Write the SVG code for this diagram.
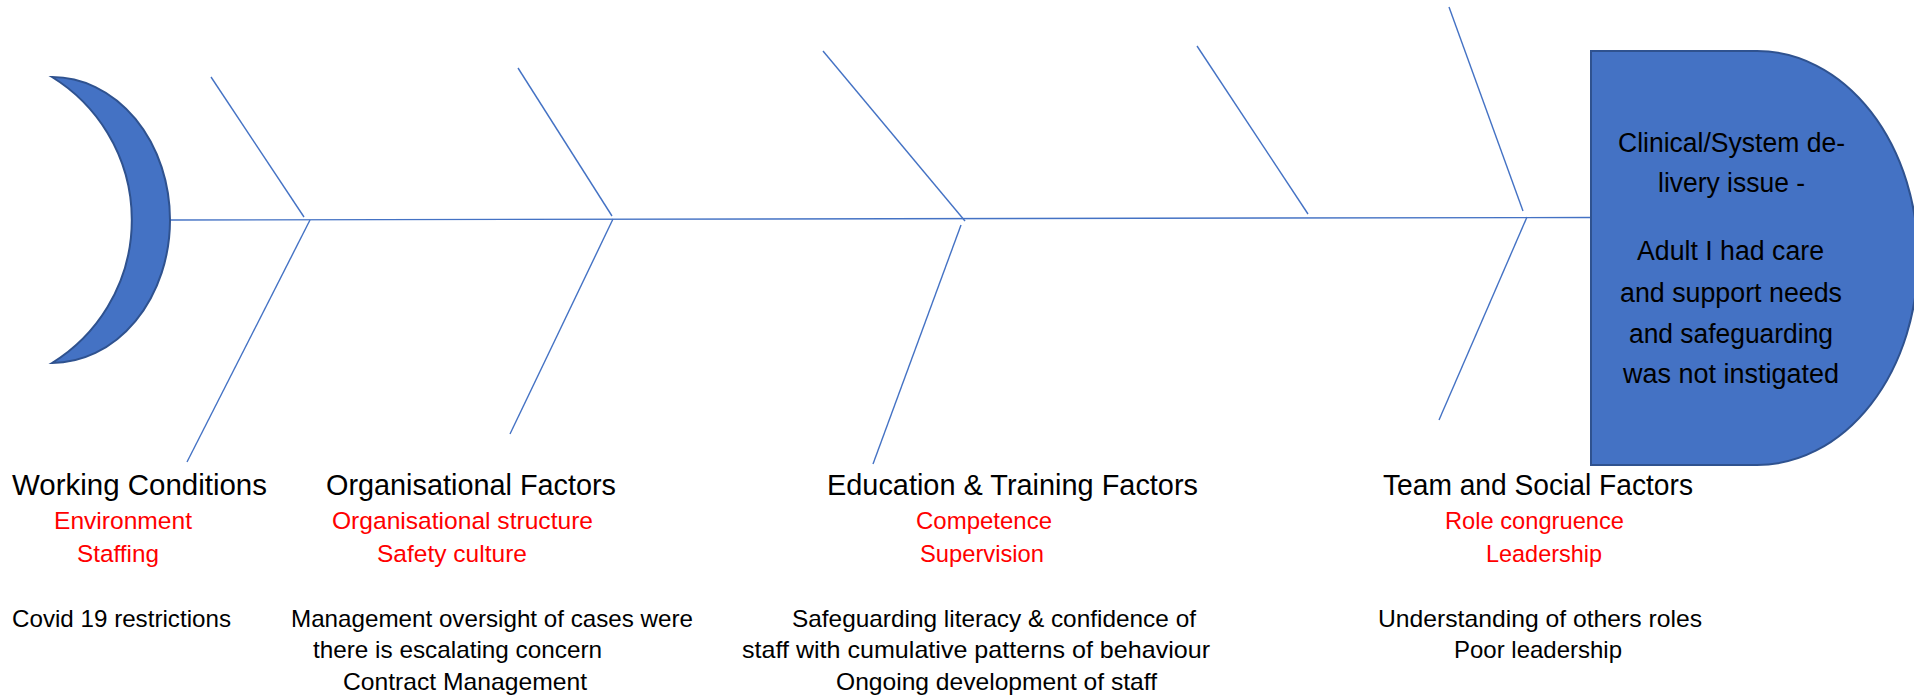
<svg xmlns="http://www.w3.org/2000/svg" width="1914" height="696" viewBox="0 0 1914 696">
  <style>
    .bone { stroke: #4472C4; stroke-width: 1.4; fill: none; stroke-linecap: butt; }
    .shape { fill: #4472C4; stroke: #2F528F; stroke-width: 2; }
    .t { font-family: "Liberation Sans", Arial, sans-serif; }
    .title { font-size: 29px; fill: #000000; }
    .sub { font-size: 24.5px; fill: #FF0000; }
    .note { font-size: 24px; fill: #000000; }
    .head { font-size: 27px; fill: #000000; }
  </style>

  <!-- spine and bones -->
  <g id="connectors">
    <line class="bone" x1="170" y1="220" x2="1592" y2="217.5"/>
    <!-- bone 1 -->
    <line class="bone" x1="211" y1="77" x2="304" y2="217"/>
    <line class="bone" x1="310" y1="220" x2="187" y2="462"/>
    <!-- bone 2 -->
    <line class="bone" x1="518" y1="68" x2="612" y2="216"/>
    <line class="bone" x1="613" y1="219" x2="510" y2="434"/>
    <!-- bone 3 -->
    <line class="bone" x1="823" y1="51" x2="965" y2="221"/>
    <line class="bone" x1="961" y1="225" x2="873" y2="464"/>
    <!-- bone 4 -->
    <line class="bone" x1="1197" y1="46" x2="1308" y2="214"/>
    <!-- bone 5 -->
    <line class="bone" x1="1449" y1="7" x2="1523" y2="211"/>
    <line class="bone" x1="1527" y1="217" x2="1439" y2="420"/>
  </g>

  <!-- tail -->
  <g id="tail">
    <path class="shape" d="M52,77 A118,143 0 0 1 52,363 A168,168 0 0 0 52,77 Z"/>
  </g>

  <!-- head: problem statement -->
  <g id="head">
    <path class="shape" d="M1591,51 H1757 A161,207 0 0 1 1757,465 H1591 Z"/>
    <text class="t head" x="1618" y="152" textLength="227" lengthAdjust="spacingAndGlyphs">Clinical/System de-</text>
    <text class="t head" x="1658" y="192" textLength="147" lengthAdjust="spacingAndGlyphs">livery issue -</text>
    <text class="t head" x="1637" y="260" textLength="187" lengthAdjust="spacingAndGlyphs">Adult I had care</text>
    <text class="t head" x="1620" y="302" textLength="222" lengthAdjust="spacingAndGlyphs">and support needs</text>
    <text class="t head" x="1629" y="343" textLength="204" lengthAdjust="spacingAndGlyphs">and safeguarding</text>
    <text class="t head" x="1623" y="383" textLength="216" lengthAdjust="spacingAndGlyphs">was not instigated</text>
  </g>

  <!-- category: working conditions -->
  <g id="working-conditions">
    <text class="t title" x="12" y="495" textLength="255" lengthAdjust="spacingAndGlyphs">Working Conditions</text>
    <text class="t sub" x="54" y="529" textLength="138" lengthAdjust="spacingAndGlyphs">Environment</text>
    <text class="t sub" x="77" y="562" textLength="82" lengthAdjust="spacingAndGlyphs">Staffing</text>
    <text class="t note" x="12" y="627" textLength="219" lengthAdjust="spacingAndGlyphs">Covid 19 restrictions</text>
  </g>

  <!-- category: organisational factors -->
  <g id="organisational-factors">
    <text class="t title" x="326" y="495" textLength="290" lengthAdjust="spacingAndGlyphs">Organisational Factors</text>
    <text class="t sub" x="332" y="529" textLength="261" lengthAdjust="spacingAndGlyphs">Organisational structure</text>
    <text class="t sub" x="377" y="562" textLength="150" lengthAdjust="spacingAndGlyphs">Safety culture</text>
    <text class="t note" x="291" y="627" textLength="402" lengthAdjust="spacingAndGlyphs">Management oversight of cases were</text>
    <text class="t note" x="313" y="658" textLength="289" lengthAdjust="spacingAndGlyphs">there is escalating concern</text>
    <text class="t note" x="343" y="690" textLength="244" lengthAdjust="spacingAndGlyphs">Contract Management</text>
  </g>

  <!-- category: education and training -->
  <g id="education-training">
    <text class="t title" x="827" y="495" textLength="371" lengthAdjust="spacingAndGlyphs">Education &amp; Training Factors</text>
    <text class="t sub" x="916" y="529" textLength="136" lengthAdjust="spacingAndGlyphs">Competence</text>
    <text class="t sub" x="920" y="562" textLength="124" lengthAdjust="spacingAndGlyphs">Supervision</text>
    <text class="t note" x="792" y="627" textLength="404" lengthAdjust="spacingAndGlyphs">Safeguarding literacy &amp; confidence of</text>
    <text class="t note" x="742" y="658" textLength="468" lengthAdjust="spacingAndGlyphs">staff with cumulative patterns of behaviour</text>
    <text class="t note" x="836" y="690" textLength="321" lengthAdjust="spacingAndGlyphs">Ongoing development of staff</text>
  </g>

  <!-- category: team and social -->
  <g id="team-social">
    <text class="t title" x="1383" y="495" textLength="310" lengthAdjust="spacingAndGlyphs">Team and Social Factors</text>
    <text class="t sub" x="1445" y="529" textLength="179" lengthAdjust="spacingAndGlyphs">Role congruence</text>
    <text class="t sub" x="1486" y="562" textLength="116" lengthAdjust="spacingAndGlyphs">Leadership</text>
    <text class="t note" x="1378" y="627" textLength="324" lengthAdjust="spacingAndGlyphs">Understanding of others roles</text>
    <text class="t note" x="1454" y="658" textLength="168" lengthAdjust="spacingAndGlyphs">Poor leadership</text>
  </g>
</svg>
